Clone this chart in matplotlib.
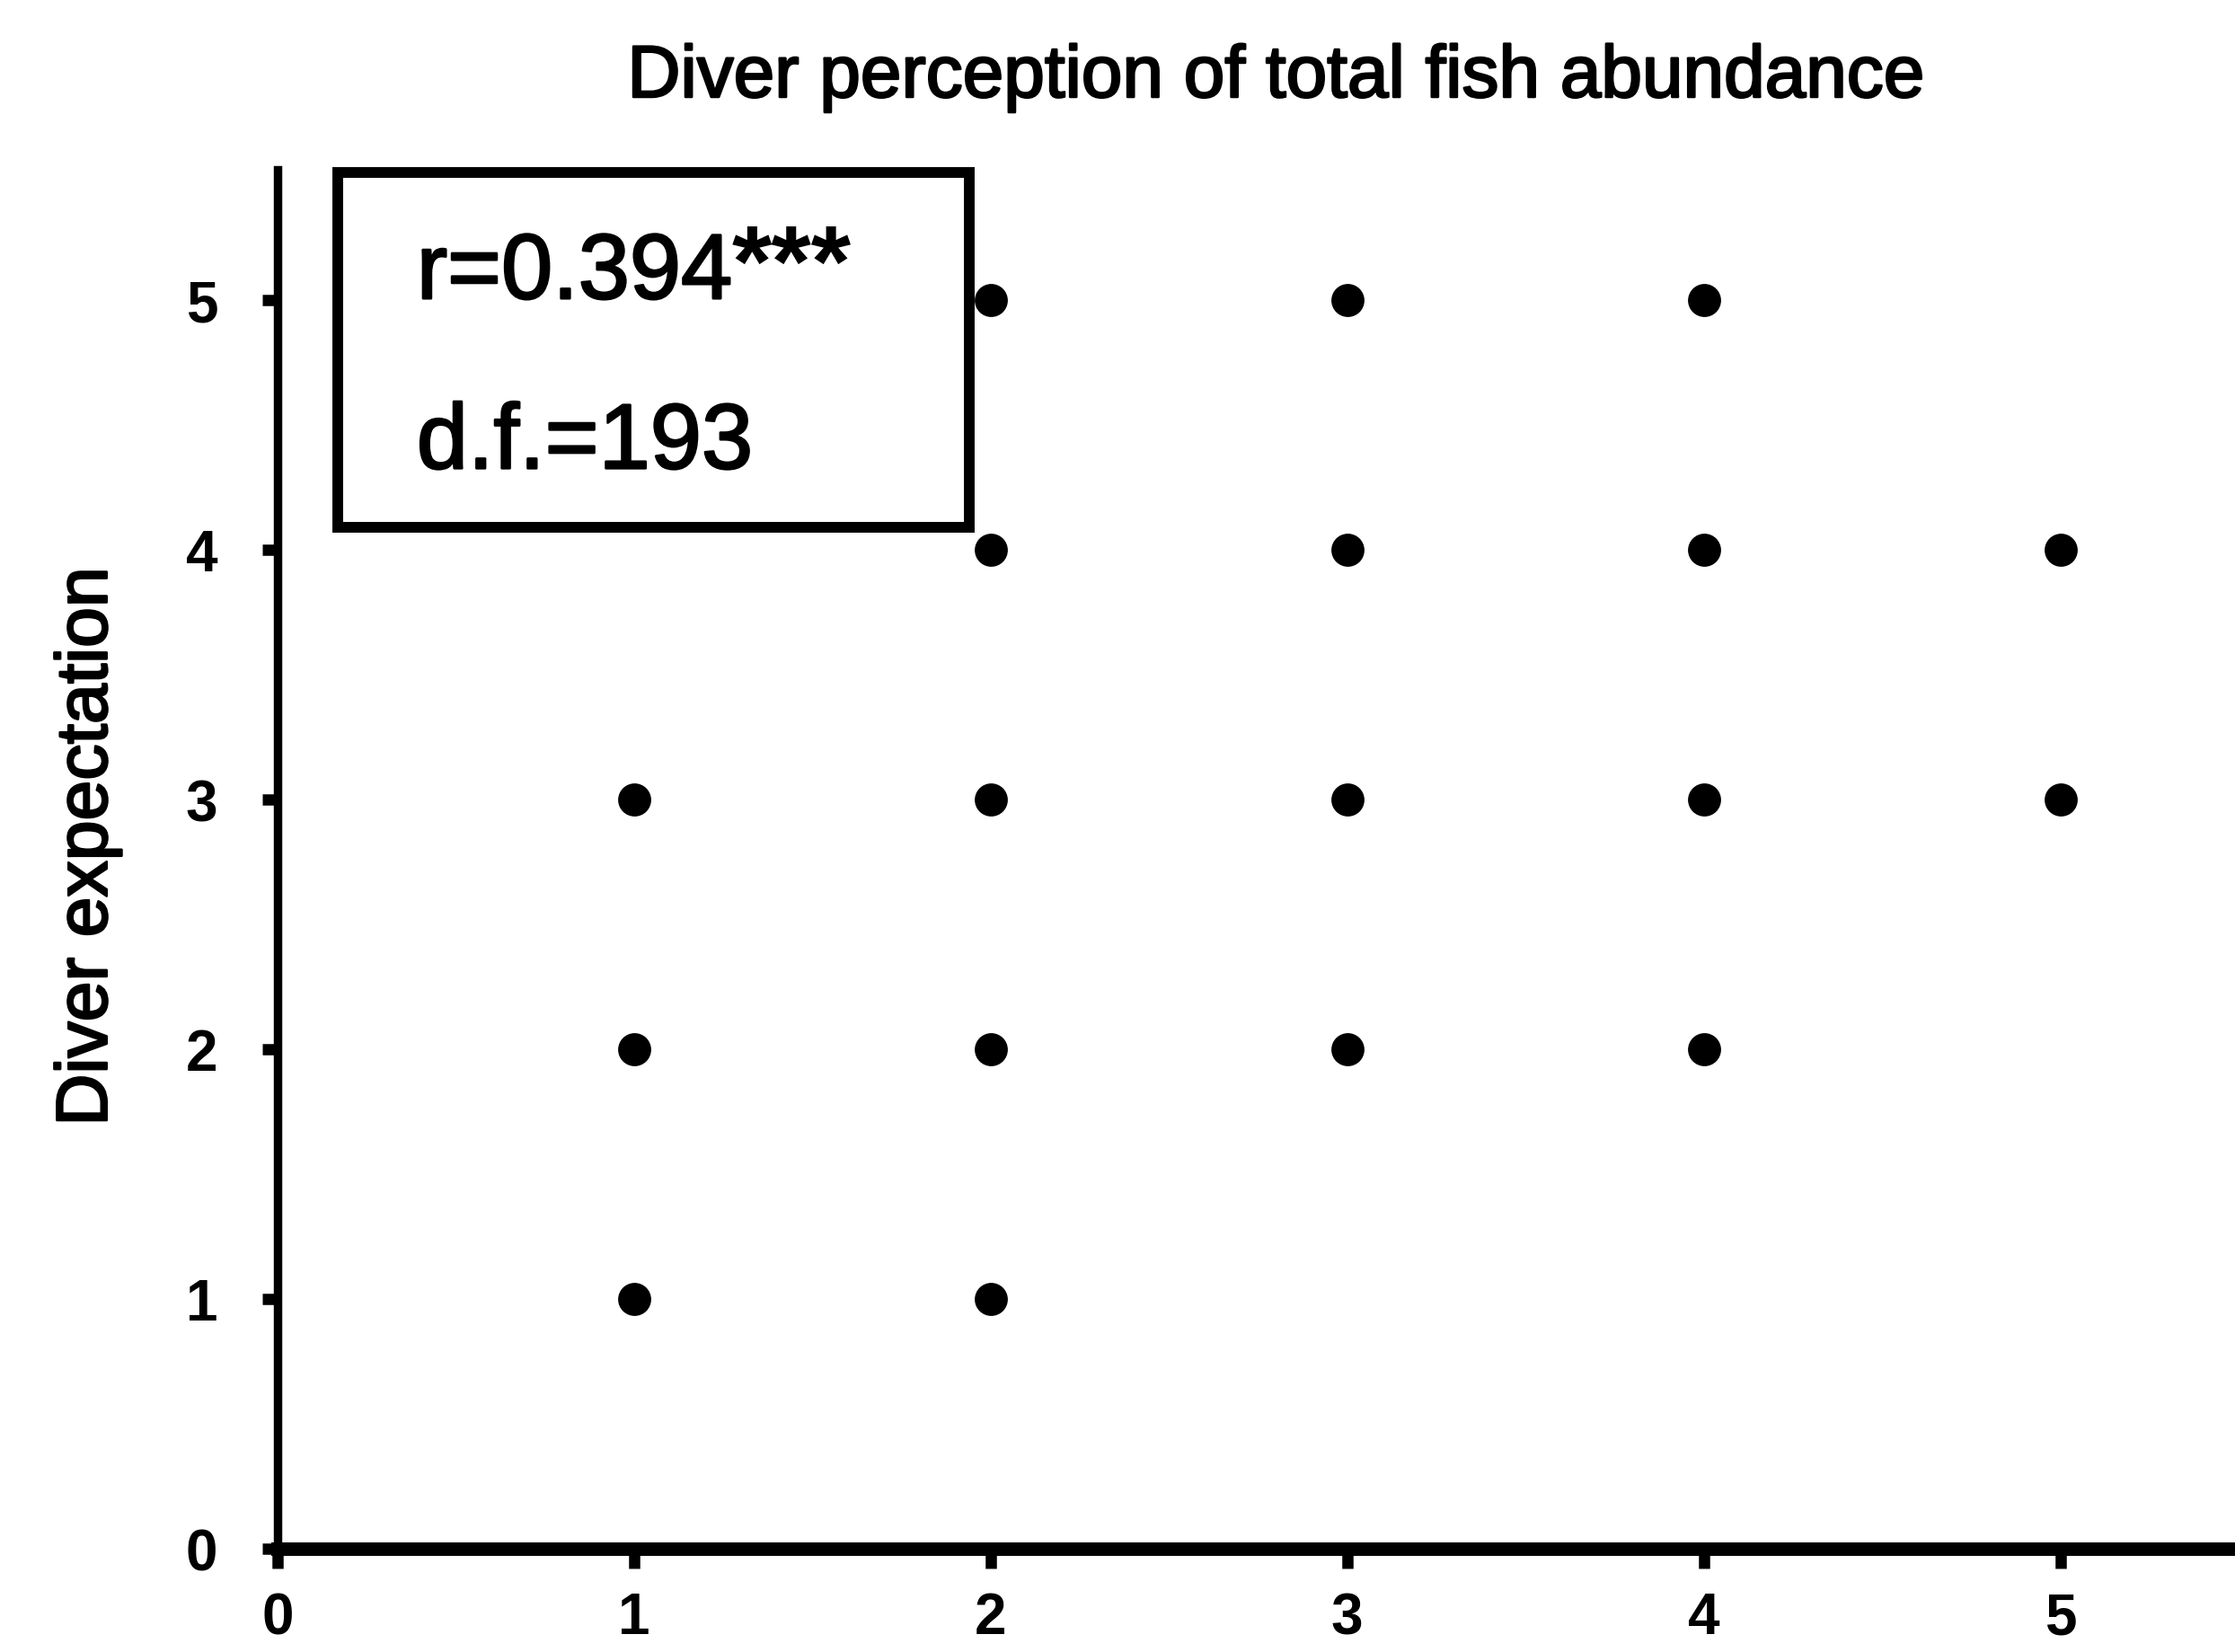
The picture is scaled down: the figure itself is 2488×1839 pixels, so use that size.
import matplotlib
matplotlib.use("Agg")
import matplotlib.pyplot as plt
import matplotlib.patheffects as pe
from matplotlib.patches import Rectangle

plt.rcParams['font.family'] = ['Liberation Sans', 'DejaVu Sans']

# perceived abundance (x) vs expectation (y), one point per distinct pair
perception = [1, 2, 1, 2, 3, 4, 1, 2, 3, 4, 5, 2, 3, 4, 5, 2, 3, 4]
expectation = [1, 1, 2, 2, 2, 2, 3, 3, 3, 3, 3, 4, 4, 4, 4, 5, 5, 5]
ticks = [0, 1, 2, 3, 4, 5]
r_text = "r=0.394"
sig_text = "***"
df_text = "d.f.=193"

W, H, DPI = 2488, 1840, 200
fig = plt.figure(figsize=(W / DPI, H / DPI), dpi=DPI)
ax = fig.add_axes([309 / W, 1 - 1725 / H, 1 - 309 / W, (1725 - 190) / H])

# slight stroke to mimic the heavy print of the original
thick = [pe.withStroke(linewidth=0.9, foreground='black')]

ax.scatter(perception, expectation, s=150, color='black', zorder=3, clip_on=False)

ax.set_xlim(0, 5.49)
ax.set_ylim(0, 5.52)
ax.set_xticks(ticks)
ax.set_yticks(ticks)
ax.spines['top'].set_visible(False)
ax.spines['right'].set_visible(False)
ax.spines['left'].set_linewidth(3.4)
ax.spines['bottom'].set_linewidth(5.4)
ax.tick_params(axis='x', direction='out', length=8, width=4.5, pad=9)
ax.tick_params(axis='y', direction='out', length=6, width=4.5, pad=18)
for lab in ax.get_xticklabels() + ax.get_yticklabels():
    lab.set_fontsize(23)
    lab.set_fontweight('bold')

# stats box
ax.add_patch(Rectangle((0.17, 4.09), 1.77, 1.42, fill=False, lw=4.3,
                       edgecolor='black', zorder=2, clip_on=False))
t1 = ax.text(0.39, 5.10, r_text, fontsize=37, va='center', ha='left',
             path_effects=thick)
ax.annotate(sig_text, xy=(1.0, 0.02), xycoords=t1, fontsize=41,
            fontweight='bold', va='bottom', ha='left')
ax.text(0.39, 4.42, df_text, fontsize=37, va='center', ha='left',
        path_effects=thick)

ax.set_ylabel("Diver expectation", fontsize=29, path_effects=thick)
ax.yaxis.set_label_coords(-0.0795, 0.509)
fig.text(1421 / W, 1 - 88 / H, "Diver perception of total fish abundance",
         fontsize=29.5, ha='center', va='center', path_effects=thick)

fig.savefig("out.png", dpi=DPI)
